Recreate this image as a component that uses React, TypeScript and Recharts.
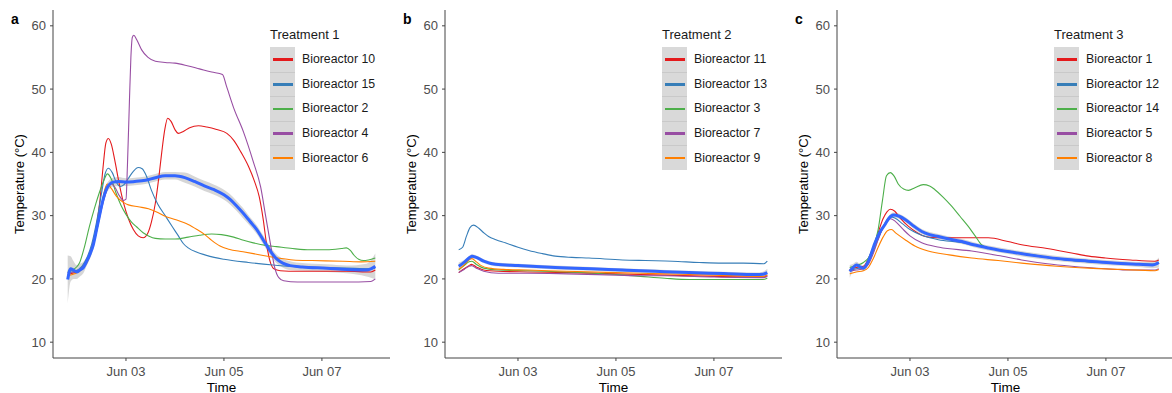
import React from 'react';
import { ComposedChart, Line, Area, XAxis, YAxis, Legend, Label } from 'recharts';

type Pt = [number, number];
type SPt = [number, number, number]; // time, smoothed value, half-width of the se band

// time is in days since Jun 01 00:00
const xTicks = [2, 4, 6];
const xTickLabels = ['Jun 03', 'Jun 05', 'Jun 07'];
const yTicks = [10, 20, 30, 40, 50, 60];

const palette = ['#E41A1C', '#377EB8', '#4DAF4A', '#984EA3', '#FF7F00'];
const smoothColor = '#3366FF';

const panelLetters = ['a', 'b', 'c'];
const treatmentTitles = ['Treatment 1', 'Treatment 2', 'Treatment 3'];

// ---- Treatment 1 ----
const namesA = ['Bioreactor 10', 'Bioreactor 15', 'Bioreactor 2', 'Bioreactor 4', 'Bioreactor 6'];
const b10: Pt[] = [[0.81,20.7],[0.95,21.0],[1.1,21.8],[1.2,23.0],[1.3,25.0],[1.4,28.5],[1.47,32.5],[1.53,37.5],[1.59,41.5],[1.64,42.2],[1.7,41.3],[1.77,38.8],[1.85,35.5],[1.95,32.0],[2.05,29.5],[2.15,27.8],[2.25,26.8],[2.35,26.5],[2.45,27.3],[2.52,29.0],[2.6,32.0],[2.67,36.0],[2.73,40.0],[2.79,43.5],[2.85,45.4],[2.92,44.9],[3.0,43.6],[3.07,43.0],[3.17,43.3],[3.3,43.9],[3.48,44.2],[3.65,44.0],[3.85,43.6],[4.06,43.0],[4.2,41.9],[4.35,40.0],[4.5,37.8],[4.62,35.5],[4.72,33.0],[4.8,29.5],[4.87,25.5],[4.94,22.8],[5.02,21.6],[5.15,21.3],[5.5,21.2],[6.0,21.2],[6.5,21.2],[7.0,21.1],[7.09,21.4]];
const b15: Pt[] = [[0.81,21.0],[0.95,21.2],[1.1,22.0],[1.2,23.3],[1.3,25.5],[1.4,29.0],[1.5,33.5],[1.57,36.5],[1.64,37.5],[1.72,36.8],[1.8,35.3],[1.88,34.6],[1.96,34.9],[2.05,35.9],[2.15,37.0],[2.25,37.6],[2.33,37.4],[2.42,36.2],[2.52,34.0],[2.65,31.8],[2.8,30.0],[2.95,28.2],[3.07,26.8],[3.17,25.6],[3.27,24.9],[3.45,24.2],[3.61,23.8],[3.8,23.4],[4.0,23.1],[4.5,22.6],[5.0,22.2],[5.5,21.9],[6.0,21.8],[6.5,21.7],[7.0,21.6],[7.09,21.7]];
const b2: Pt[] = [[0.81,21.2],[0.95,21.6],[1.05,22.5],[1.15,25.0],[1.25,28.2],[1.35,31.0],[1.45,33.5],[1.55,35.6],[1.62,36.6],[1.7,35.8],[1.8,33.5],[1.9,31.6],[2.0,30.2],[2.1,29.1],[2.22,28.2],[2.35,27.3],[2.46,26.8],[2.6,26.4],[2.8,26.3],[3.0,26.3],[3.27,26.6],[3.5,26.9],[3.75,27.1],[3.95,27.0],[4.2,26.6],[4.4,26.1],[4.6,25.7],[4.85,25.3],[5.07,25.1],[5.4,24.8],[5.76,24.6],[6.1,24.6],[6.4,24.8],[6.5,24.9],[6.58,24.5],[6.66,23.7],[6.75,23.1],[6.85,22.9],[6.95,23.0],[7.09,23.3]];
const b4: Pt[] = [[0.81,21.0],[0.95,21.1],[1.1,21.7],[1.2,22.8],[1.3,24.5],[1.4,27.5],[1.5,31.0],[1.6,33.8],[1.7,35.0],[1.78,34.4],[1.86,33.2],[1.95,32.4],[2.0,32.6],[2.03,38.0],[2.07,48.0],[2.1,55.0],[2.13,58.2],[2.16,58.5],[2.22,57.8],[2.32,56.2],[2.45,55.0],[2.6,54.4],[2.8,54.2],[3.0,54.1],[3.25,53.7],[3.5,53.2],[3.75,52.7],[3.97,52.3],[4.05,50.5],[4.2,47.0],[4.4,43.2],[4.6,38.5],[4.75,34.5],[4.85,30.0],[4.95,25.5],[5.03,22.0],[5.12,20.2],[5.22,19.7],[5.5,19.5],[6.0,19.5],[6.5,19.5],[7.0,19.6],[7.09,20.0]];
const b6: Pt[] = [[0.81,20.5],[0.95,20.8],[1.1,21.5],[1.2,22.5],[1.3,24.5],[1.4,27.5],[1.5,31.5],[1.57,34.2],[1.62,35.0],[1.7,34.3],[1.81,33.0],[1.95,32.1],[2.05,31.7],[2.25,31.4],[2.46,31.1],[2.65,30.5],[2.8,29.9],[3.0,29.4],[3.27,28.6],[3.45,27.8],[3.61,27.0],[3.75,26.1],[3.92,25.2],[4.1,24.7],[4.39,24.3],[4.6,24.0],[4.8,23.7],[5.1,23.3],[5.41,23.0],[5.8,22.9],[6.43,22.8],[6.8,22.7],[7.09,22.8]];
const smoothA: SPt[] = [[0.81,19.9,3.8],[0.87,21.6,2.0],[0.93,21.4,1.4],[0.99,21.1,1.1],[1.06,21.4,1.0],[1.13,21.8,0.9],[1.2,22.8,0.7],[1.27,24.0,0.7],[1.33,25.3,0.7],[1.4,27.8,0.7],[1.47,30.4,0.7],[1.53,32.5,0.7],[1.6,34.2,0.7],[1.67,35.0,0.7],[1.74,35.3,0.7],[1.85,35.4,0.7],[2.0,35.3,0.6],[2.18,35.4,0.6],[2.4,35.6,0.6],[2.6,36.0,0.6],[2.8,36.3,0.6],[3.0,36.3,0.6],[3.2,36.0,0.8],[3.4,35.4,0.8],[3.6,34.7,0.8],[3.8,34.1,0.8],[4.0,33.3,0.8],[4.12,32.6,0.8],[4.25,31.6,0.8],[4.39,30.4,0.8],[4.53,29.1,0.7],[4.67,27.8,0.7],[4.8,26.2,0.7],[4.93,24.6,0.7],[5.07,23.2,0.7],[5.2,22.5,0.7],[5.35,22.1,0.7],[5.6,21.9,0.6],[6.1,21.7,0.6],[6.5,21.5,0.6],[6.91,21.4,1.0],[7.0,21.6,1.4],[7.09,22.0,2.0]];

// ---- Treatment 2 ----
const namesB = ['Bioreactor 11', 'Bioreactor 13', 'Bioreactor 3', 'Bioreactor 7', 'Bioreactor 9'];
const b11: Pt[] = [[0.79,21.0],[0.9,21.6],[1.0,22.1],[1.05,22.3],[1.15,21.9],[1.3,21.4],[1.6,21.2],[2.2,21.1],[3.0,21.0],[4.0,20.8],[5.0,20.6],[6.0,20.4],[7.0,20.3],[7.09,20.5]];
const b13: Pt[] = [[0.79,24.6],[0.87,25.0],[0.95,26.8],[1.02,28.1],[1.09,28.5],[1.2,28.0],[1.3,27.3],[1.4,26.7],[1.55,26.2],[1.74,25.7],[2.0,25.0],[2.22,24.5],[2.5,24.0],[2.76,23.6],[3.1,23.4],[3.45,23.3],[4.13,23.0],[4.6,22.9],[5.15,22.8],[5.7,22.6],[6.17,22.5],[6.6,22.5],[7.02,22.4],[7.09,22.8]];
const b3: Pt[] = [[0.79,21.4],[0.9,22.1],[1.0,22.7],[1.06,22.8],[1.15,22.3],[1.3,21.7],[1.6,21.4],[2.2,21.3],[3.0,21.1],[4.0,20.7],[4.5,20.4],[5.0,20.1],[5.5,19.9],[6.0,19.9],[6.5,19.9],[7.0,19.9],[7.09,20.1]];
const b7: Pt[] = [[0.79,21.0],[0.9,21.5],[1.0,22.0],[1.05,22.1],[1.15,21.7],[1.3,21.2],[1.6,20.9],[2.2,20.9],[3.0,20.8],[4.0,20.6],[4.5,20.5],[5.0,20.5],[6.0,20.3],[7.0,20.2],[7.09,20.4]];
const b9: Pt[] = [[0.79,21.5],[0.9,22.2],[1.0,23.0],[1.06,23.2],[1.15,22.7],[1.25,22.1],[1.4,21.7],[1.7,21.5],[2.2,21.4],[3.0,21.2],[4.0,21.0],[5.0,20.8],[6.0,20.6],[7.0,20.4],[7.09,20.6]];
const smoothB: SPt[] = [[0.79,22.0,0.6],[0.9,22.6,0.4],[1.0,23.3,0.3],[1.06,23.6,0.3],[1.15,23.4,0.3],[1.3,22.8,0.3],[1.54,22.3,0.3],[2.0,22.1,0.3],[2.76,21.8,0.3],[3.5,21.6,0.3],[4.13,21.4,0.3],[4.8,21.2,0.3],[5.49,21.0,0.3],[6.2,20.85,0.3],[6.85,20.7,0.3],[7.0,20.75,0.4],[7.09,21.0,0.6]];

// ---- Treatment 3 ----
const namesC = ['Bioreactor 1', 'Bioreactor 12', 'Bioreactor 14', 'Bioreactor 5', 'Bioreactor 8'];
const b1: Pt[] = [[0.77,21.5],[0.9,21.8],[1.05,22.0],[1.15,23.2],[1.25,25.0],[1.35,27.3],[1.45,29.5],[1.53,30.6],[1.6,31.0],[1.69,30.7],[1.8,29.6],[1.97,28.3],[2.15,27.3],[2.31,26.7],[2.55,26.5],[2.78,26.5],[3.2,26.5],[3.6,26.5],[4.0,25.9],[4.28,25.4],[4.8,24.8],[5.3,24.1],[5.65,23.6],[5.99,23.3],[6.5,23.0],[7.0,22.8],[7.08,23.0]];
const b12: Pt[] = [[0.77,21.3],[0.9,21.6],[1.05,21.8],[1.15,22.6],[1.25,24.3],[1.35,26.3],[1.45,28.2],[1.53,29.3],[1.6,29.8],[1.7,29.6],[1.85,28.7],[2.0,27.8],[2.24,26.9],[2.58,26.2],[3.0,25.8],[3.6,24.9],[4.0,24.3],[4.6,23.6],[5.2,23.0],[5.7,22.7],[6.3,22.5],[7.0,22.3],[7.08,22.5]];
const b14: Pt[] = [[0.77,21.8],[0.9,22.1],[1.05,22.6],[1.15,23.3],[1.25,25.0],[1.35,27.8],[1.44,32.5],[1.52,36.3],[1.6,36.8],[1.68,36.2],[1.76,35.0],[1.87,34.2],[1.97,34.0],[2.1,34.4],[2.27,34.9],[2.4,34.7],[2.51,34.1],[2.68,32.9],[2.85,31.5],[3.02,29.9],[3.19,28.3],[3.33,26.8],[3.46,25.4],[3.6,24.9],[4.0,24.4],[4.5,23.8],[5.0,23.2],[5.5,22.8],[6.0,22.6],[6.5,22.4],[7.0,22.3],[7.08,22.5]];
const b5: Pt[] = [[0.77,21.2],[0.9,21.4],[1.05,21.6],[1.15,22.3],[1.25,24.0],[1.35,26.2],[1.45,28.1],[1.53,29.1],[1.6,29.5],[1.7,29.1],[1.85,27.9],[2.0,26.8],[2.24,25.7],[2.6,25.0],[3.26,24.4],[3.8,23.7],[4.28,23.0],[4.8,22.4],[5.3,22.0],[6.0,21.6],[6.5,21.4],[7.0,21.4],[7.08,21.6]];
const b8: Pt[] = [[0.77,20.8],[0.9,21.1],[1.05,21.3],[1.15,21.8],[1.25,23.2],[1.35,25.0],[1.45,26.6],[1.54,27.6],[1.62,27.8],[1.72,27.2],[1.9,26.2],[2.1,25.2],[2.37,24.4],[2.8,23.8],[3.26,23.3],[3.8,22.9],[4.28,22.5],[5.0,22.0],[5.65,21.7],[6.3,21.5],[7.0,21.3],[7.08,21.5]];
const smoothC: SPt[] = [[0.77,21.2,1.0],[0.84,21.8,0.6],[0.91,22.2,0.5],[0.98,21.9,0.4],[1.05,21.7,0.4],[1.15,22.8,0.4],[1.28,25.6,0.4],[1.38,27.3,0.4],[1.49,28.6,0.4],[1.57,29.6,0.4],[1.66,30.1,0.4],[1.78,29.9,0.4],[1.9,29.4,0.4],[2.05,28.5,0.4],[2.24,27.5,0.4],[2.4,27.0,0.4],[2.58,26.7,0.4],[2.8,26.3,0.4],[3.06,25.9,0.4],[3.3,25.4,0.4],[3.6,24.9,0.4],[4.1,24.2,0.4],[4.62,23.6,0.4],[5.15,23.1,0.4],[5.65,22.8,0.4],[6.15,22.5,0.4],[6.67,22.3,0.4],[6.95,22.2,0.5],[7.08,22.6,0.8]];

const FONT = '"Liberation Sans", Arial, Helvetica, sans-serif';
const W = 392;
const H = 393;

type PanelProps = {
  idx: number;
  names: string[];
  series: Pt[][];
  smooth: SPt[];
};

const LegendBox = ({ title, names }: { title: string; names: string[] }) => (
  <div style={{ fontFamily: FONT, width: 120 }}>
    <div style={{ height: 21, lineHeight: '17px', fontSize: 13, color: '#1a1a1a' }}>{title}</div>
    {names.map((n, i) => (
      <div key={n} style={{ display: 'flex', alignItems: 'center', height: 24.6 }}>
        <div
          style={{
            width: 25,
            height: 24.6,
            boxSizing: 'border-box',
            background: '#D9D9D9',
            borderTop: i > 0 ? '1px solid #C9C9C9' : 'none',
            display: 'flex',
            alignItems: 'center',
            justifyContent: 'center',
          }}
        >
          <div style={{ width: 20, height: 2.6, background: palette[i] }} />
        </div>
        <div style={{ marginLeft: 7, fontSize: 12.3, color: '#1a1a1a' }}>{n}</div>
      </div>
    ))}
  </div>
);

const Panel = ({ idx, names, series, smooth }: PanelProps) => {
  const rows = smooth.map(([t, v, w]) => ({ t, v, band: [v - w, v + w] }));
  return (
    <div style={{ position: 'absolute', left: idx * W, top: 0, width: W, height: H }}>
      <ComposedChart width={W} height={H} data={rows} margin={{ top: 10, right: 2, bottom: 0, left: 0 }}>
        <XAxis
          dataKey="t"
          type="number"
          domain={[0.51, 7.39]}
          allowDataOverflow
          ticks={xTicks}
          tickFormatter={(v: number) => xTickLabels[xTicks.indexOf(v)]}
          height={35}
          tickSize={3}
          tickMargin={6}
          stroke="#444"
          tick={{ fill: '#4D4D4D', fontSize: 13, fontFamily: FONT }}
        >
          <Label value="Time" position="insideBottom" offset={1.5} fill="#000" fontSize={13.5} fontFamily={FONT} />
        </XAxis>
        <YAxis
          type="number"
          domain={[7.5, 62.5]}
          allowDataOverflow
          ticks={yTicks}
          width={53}
          tickSize={3}
          tickMargin={4}
          stroke="#444"
          tick={{ fill: '#4D4D4D', fontSize: 13, fontFamily: FONT }}
        >
          <Label
            content={(p: any) => {
              const vb = p.viewBox || { y: 10, height: 348 };
              const cy = vb.y + vb.height / 2;
              return (
                <text
                  x={19}
                  y={cy}
                  transform={`rotate(-90 19 ${cy})`}
                  textAnchor="middle"
                  dominantBaseline="central"
                  fontSize={13}
                  fontFamily={FONT}
                  fill="#000"
                >
                  Temperature (°C)
                </text>
              );
            }}
          />
        </YAxis>
        {series.map((s, i) => (
          <Line
            key={names[i]}
            data={s.map(([t, v]) => ({ t, v }))}
            dataKey="v"
            type="monotone"
            stroke={palette[i]}
            strokeWidth={1.1}
            dot={false}
            activeDot={false}
            isAnimationActive={false}
          />
        ))}
        <Area
          dataKey="band"
          type="monotone"
          fill="#999999"
          fillOpacity={0.4}
          stroke="none"
          isAnimationActive={false}
        />
        <Line
          dataKey="v"
          type="monotone"
          stroke={smoothColor}
          strokeWidth={3}
          dot={false}
          activeDot={false}
          isAnimationActive={false}
        />
        <Legend
          layout="vertical"
          align="center"
          verticalAlign="middle"
          wrapperStyle={{ position: 'absolute', left: 270, top: 26, width: 120 }}
          content={() => <LegendBox title={treatmentTitles[idx]} names={names} />}
        />
      </ComposedChart>
      <div
        style={{
          position: 'absolute',
          left: 11,
          top: 12,
          fontFamily: FONT,
          fontWeight: 'bold',
          fontSize: 14,
          lineHeight: '14px',
          color: '#000',
        }}
      >
        {panelLetters[idx]}
      </div>
    </div>
  );
};

const App = () => (
  <div
    style={{
      position: 'absolute',
      left: 0,
      top: 0,
      width: 1172,
      height: 393,
      overflow: 'hidden',
      background: '#fff',
    }}
  >
    <Panel idx={0} names={namesA} series={[b10, b15, b2, b4, b6]} smooth={smoothA} />
    <Panel idx={1} names={namesB} series={[b11, b13, b3, b7, b9]} smooth={smoothB} />
    <Panel idx={2} names={namesC} series={[b1, b12, b14, b5, b8]} smooth={smoothC} />
  </div>
);

export default App;
